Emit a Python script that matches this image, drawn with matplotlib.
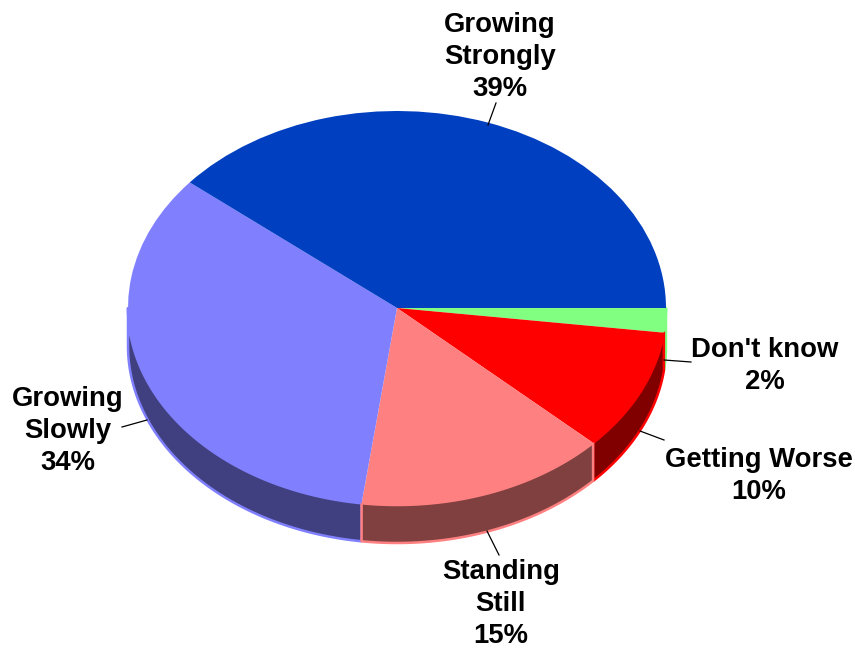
import numpy as np
import matplotlib
matplotlib.use('Agg')
import matplotlib.pyplot as plt

# slices clockwise from 3 o'clock
labels = ["Don't know", "Getting Worse", "Standing\nStill", "Growing\nSlowly", "Growing\nStrongly"]
values = [2, 10, 15.1, 33.9, 39]
top_colors = ['#80FF80', '#FF0000', '#FF8080', '#8080FF', '#0040C0']
side_colors = ['#408040', '#800000', '#804040', '#404080', '#002060']
edge_colors = ['#80FF80', '#FF0000', '#FF8080', '#8080FF', '#0040C0']

W, H = 855, 648
CX, CY, RX, RY, DEPTH = 397, 308, 269, 197, 38


def px(x, y):
    # picture pixels to the pie's unit coordinates
    return (x - CX) / RX, (CY - y) / RY


plt.rcParams['font.family'] = ['Liberation Sans', 'DejaVu Sans']
fig = plt.figure(figsize=(W / 100, H / 100), dpi=100)
ax = fig.add_axes([0, 0, 1, 1])

wedges, _ = ax.pie(values, colors=top_colors, startangle=0, counterclock=False,
                   wedgeprops={'linewidth': 0, 'zorder': 5})
ax.set_aspect('auto')
ax.set_xlim(px(0, 0)[0], px(W, 0)[0])
ax.set_ylim(px(0, H)[1], px(0, 0)[1])
ax.axis('off')

# side wall, only the part of each slice on the front half
d = DEPTH / RY
edges = np.cumsum([0] + values) / sum(values) * 360
side_z = [2.0, 2.1, 2.3, 2.2, 2.0]  # pink outline sits over its neighbours
for i in range(len(values)):
    a0, a1 = edges[i], min(edges[i + 1], 180)
    if a0 >= 180:
        continue
    t = np.radians(np.linspace(a0, a1, 80))
    xs = np.concatenate([np.cos(t), np.cos(t[::-1])])
    ys = np.concatenate([-np.sin(t), -np.sin(t[::-1]) - d])
    ax.fill(xs, ys, facecolor=side_colors[i], edgecolor=edge_colors[i],
            linewidth=1.8, joinstyle='round', zorder=side_z[i])

# text and leader lines, picture pixels
text_pos = [(765, 366), (759, 476), (501, 604), (68, 431), (500, 57)]
leaders = [((664, 360), (691, 362)), ((640, 431), (664, 440)), ((487, 531), (499, 555)),
           ((147, 420), (122, 427)), ((488, 125), (496, 103))]
for lab, v, pos, (p0, p1) in zip(labels, values, text_pos, leaders):
    x, y = px(*pos)
    ax.text(x, y, f'{lab}\n{v:.0f}%', ha='center', va='center', fontsize=19.8,
            fontweight='bold', color='black', linespacing=1.28, zorder=10)
    a, b = px(*p0), px(*p1)
    ax.plot([a[0], b[0]], [a[1], b[1]], color='black', lw=0.9, zorder=9)

fig.savefig('out.png', dpi=100, facecolor='white')
